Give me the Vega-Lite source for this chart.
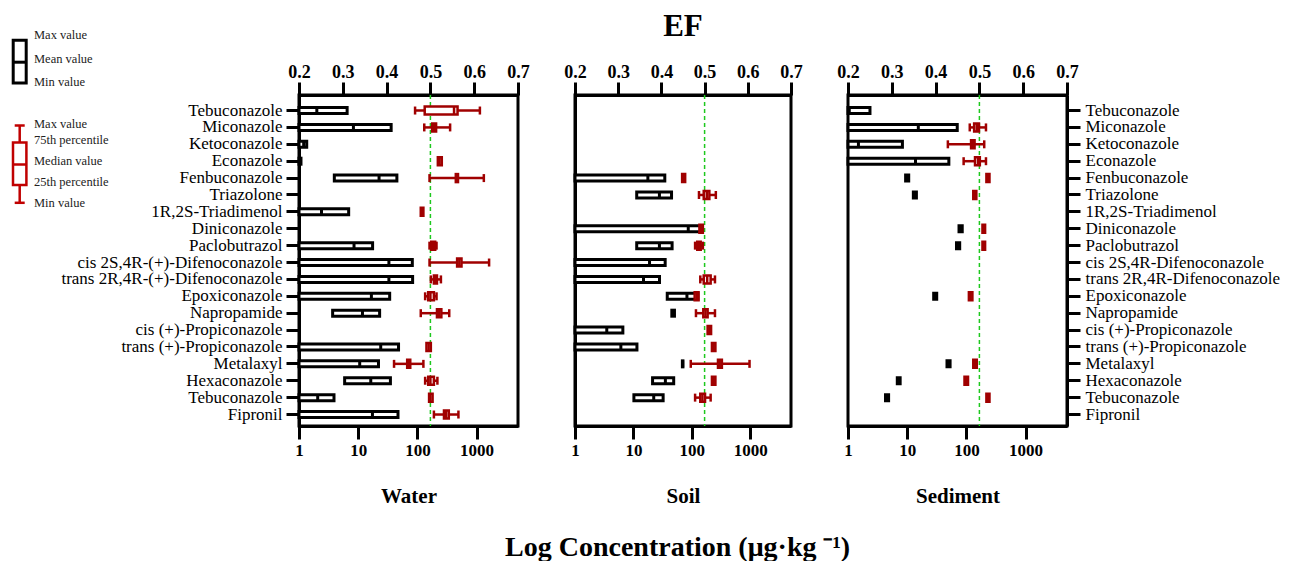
{
  "$schema": "https://vega.github.io/schema/vega-lite/v6.json",
  "padding": {"left": 10, "top": 9, "right": 0, "bottom": 0},
  "config": {
    "font": "Liberation Serif",
    "view": {"stroke": "black", "strokeWidth": 3},
    "tick": {"opacity": 1},
    "bar": {"opacity": 1},
    "axis": {"domainColor": "black", "domainWidth": 3, "tickColor": "black", "tickWidth": 3, "tickSize": 13, "labelColor": "black", "labelFont": "Liberation Serif", "titleFont": "Liberation Serif", "titleColor": "black", "grid": false, "labelFlush": false, "labelOverlap": false, "labelLimit": 0},
    "title": {"font": "Liberation Serif", "color": "black"}
  },
  "title": {"text": "Log Concentration (μg·kg ⁻¹)", "orient": "bottom", "anchor": "middle", "fontSize": 28, "fontWeight": "bold", "offset": 26, "dx": 32},
  "datasets": {
    "conc": [
      {"m":"Water","k":"01|Tebuconazole|Tebuconazole","min":1,"mean":2.0,"max":6.5},
      {"m":"Water","k":"02|Miconazole|Miconazole","min":1,"mean":8.3,"max":36},
      {"m":"Water","k":"03|Ketoconazole|Ketoconazole","min":1,"mean":1.2,"max":1.35},
      {"m":"Water","k":"04|Econazole|Econazole","min":1,"mean":1.04,"max":1.08},
      {"m":"Water","k":"05|Fenbuconazole|Fenbuconazole","min":3.95,"mean":22.5,"max":45},
      {"m":"Water","k":"07|1R,2S-Triadimenol|1R,2S-Triadimenol","min":1,"mean":2.4,"max":6.9},
      {"m":"Water","k":"09|Paclobutrazol|Paclobutrazol","min":1,"mean":8.5,"max":17.5},
      {"m":"Water","k":"10|cis 2S,4R-(+)-Difenoconazole|cis 2S,4R-Difenoconazole","min":1,"mean":33,"max":82},
      {"m":"Water","k":"11|trans 2R,4R-(+)-Difenoconazole|trans 2R,4R-Difenoconazole","min":1,"mean":33,"max":83},
      {"m":"Water","k":"12|Epoxiconazole|Epoxiconazole","min":1,"mean":16.7,"max":34},
      {"m":"Water","k":"13|Napropamide|Napropamide","min":3.7,"mean":11.8,"max":23},
      {"m":"Water","k":"15|trans (+)-Propiconazole|trans (+)-Propiconazole","min":1,"mean":24,"max":48},
      {"m":"Water","k":"16|Metalaxyl|Metalaxyl","min":1,"mean":10.6,"max":22},
      {"m":"Water","k":"17|Hexaconazole|Hexaconazole","min":5.9,"mean":16.3,"max":35},
      {"m":"Water","k":"18|Tebuconazole|Tebuconazole","min":1,"mean":2.07,"max":3.9},
      {"m":"Water","k":"19|Fipronil|Fipronil","min":1,"mean":17.4,"max":47},
      {"m":"Soil","k":"05|Fenbuconazole|Fenbuconazole","min":1,"mean":17.7,"max":34.5},
      {"m":"Soil","k":"06|Triazolone|Triazolone","min":11.4,"mean":27.9,"max":45},
      {"m":"Soil","k":"08|Diniconazole|Diniconazole","min":1,"mean":87,"max":152},
      {"m":"Soil","k":"09|Paclobutrazol|Paclobutrazol","min":11.4,"mean":27.9,"max":46},
      {"m":"Soil","k":"10|cis 2S,4R-(+)-Difenoconazole|cis 2S,4R-Difenoconazole","min":1,"mean":18.9,"max":35},
      {"m":"Soil","k":"11|trans 2R,4R-(+)-Difenoconazole|trans 2R,4R-Difenoconazole","min":1,"mean":14.9,"max":28},
      {"m":"Soil","k":"12|Epoxiconazole|Epoxiconazole","min":38,"mean":82.6,"max":127},
      {"m":"Soil","k":"13|Napropamide|Napropamide","min":45.5,"mean":48,"max":50.5},
      {"m":"Soil","k":"14|cis (+)-Propiconazole|cis (+)-Propiconazole","min":1,"mean":3.5,"max":6.6},
      {"m":"Soil","k":"15|trans (+)-Propiconazole|trans (+)-Propiconazole","min":1,"mean":6.1,"max":11.5},
      {"m":"Soil","k":"16|Metalaxyl|Metalaxyl","min":69,"mean":69.8,"max":70.5},
      {"m":"Soil","k":"17|Hexaconazole|Hexaconazole","min":21.3,"mean":35.3,"max":49},
      {"m":"Soil","k":"18|Tebuconazole|Tebuconazole","min":10.2,"mean":22.3,"max":32.3},
      {"m":"Sediment","k":"01|Tebuconazole|Tebuconazole","min":1,"mean":1.05,"max":2.35},
      {"m":"Sediment","k":"02|Miconazole|Miconazole","min":1,"mean":15.4,"max":70},
      {"m":"Sediment","k":"03|Ketoconazole|Ketoconazole","min":1,"mean":1.5,"max":8.3},
      {"m":"Sediment","k":"04|Econazole|Econazole","min":1,"mean":13.8,"max":50.5},
      {"m":"Sediment","k":"05|Fenbuconazole|Fenbuconazole","min":9.4,"mean":10,"max":10.6},
      {"m":"Sediment","k":"06|Triazolone|Triazolone","min":12.7,"mean":13.5,"max":14.3},
      {"m":"Sediment","k":"08|Diniconazole|Diniconazole","min":75,"mean":80,"max":85},
      {"m":"Sediment","k":"09|Paclobutrazol|Paclobutrazol","min":68,"mean":72.5,"max":77},
      {"m":"Sediment","k":"12|Epoxiconazole|Epoxiconazole","min":28,"mean":29.7,"max":31.5},
      {"m":"Sediment","k":"16|Metalaxyl|Metalaxyl","min":47,"mean":50,"max":53},
      {"m":"Sediment","k":"17|Hexaconazole|Hexaconazole","min":6.8,"mean":7.2,"max":7.6},
      {"m":"Sediment","k":"18|Tebuconazole|Tebuconazole","min":4.3,"mean":4.57,"max":4.85}
    ],
    "ef": [
      {"m":"Water","k":"01|Tebuconazole|Tebuconazole","lo":0.465,"q1":0.487,"med":0.554,"q3":0.562,"hi":0.613},
      {"m":"Water","k":"02|Miconazole|Miconazole","lo":0.486,"q1":0.504,"med":0.508,"q3":0.513,"hi":0.545},
      {"m":"Water","k":"04|Econazole|Econazole","q1":0.517,"med":0.521,"q3":0.526},
      {"m":"Water","k":"05|Fenbuconazole|Fenbuconazole","lo":0.498,"q1":0.558,"med":0.56,"q3":0.563,"hi":0.622},
      {"m":"Water","k":"07|1R,2S-Triadimenol|1R,2S-Triadimenol","q1":0.478,"med":0.481,"q3":0.484},
      {"m":"Water","k":"09|Paclobutrazol|Paclobutrazol","lo":0.498,"q1":0.502,"med":0.506,"q3":0.511,"hi":0.514},
      {"m":"Water","k":"10|cis 2S,4R-(+)-Difenoconazole|cis 2S,4R-Difenoconazole","lo":0.498,"q1":0.561,"med":0.566,"q3":0.571,"hi":0.634},
      {"m":"Water","k":"11|trans 2R,4R-(+)-Difenoconazole|trans 2R,4R-Difenoconazole","lo":0.501,"q1":0.508,"med":0.511,"q3":0.515,"hi":0.524},
      {"m":"Water","k":"12|Epoxiconazole|Epoxiconazole","lo":0.488,"q1":0.495,"med":0.5,"q3":0.508,"hi":0.514},
      {"m":"Water","k":"13|Napropamide|Napropamide","lo":0.478,"q1":0.515,"med":0.52,"q3":0.525,"hi":0.543},
      {"m":"Water","k":"15|trans (+)-Propiconazole|trans (+)-Propiconazole","q1":0.491,"med":0.496,"q3":0.501},
      {"m":"Water","k":"16|Metalaxyl|Metalaxyl","lo":0.417,"q1":0.447,"med":0.45,"q3":0.454,"hi":0.484},
      {"m":"Water","k":"17|Hexaconazole|Hexaconazole","lo":0.488,"q1":0.495,"med":0.5,"q3":0.508,"hi":0.516},
      {"m":"Water","k":"18|Tebuconazole|Tebuconazole","q1":0.497,"med":0.5,"q3":0.505},
      {"m":"Water","k":"19|Fipronil|Fipronil","lo":0.508,"q1":0.531,"med":0.536,"q3":0.542,"hi":0.564},
      {"m":"Soil","k":"05|Fenbuconazole|Fenbuconazole","q1":0.448,"med":0.452,"q3":0.455},
      {"m":"Soil","k":"06|Triazolone|Triazolone","lo":0.487,"q1":0.498,"med":0.505,"q3":0.511,"hi":0.526},
      {"m":"Soil","k":"08|Diniconazole|Diniconazole","q1":0.488,"med":0.492,"q3":0.496},
      {"m":"Soil","k":"09|Paclobutrazol|Paclobutrazol","lo":0.478,"q1":0.483,"med":0.487,"q3":0.491,"hi":0.496},
      {"m":"Soil","k":"11|trans 2R,4R-(+)-Difenoconazole|trans 2R,4R-Difenoconazole","lo":0.49,"q1":0.498,"med":0.506,"q3":0.514,"hi":0.524},
      {"m":"Soil","k":"12|Epoxiconazole|Epoxiconazole","q1":0.477,"med":0.482,"q3":0.486},
      {"m":"Soil","k":"13|Napropamide|Napropamide","lo":0.48,"q1":0.497,"med":0.502,"q3":0.507,"hi":0.524},
      {"m":"Soil","k":"14|cis (+)-Propiconazole|cis (+)-Propiconazole","q1":0.507,"med":0.511,"q3":0.515},
      {"m":"Soil","k":"15|trans (+)-Propiconazole|trans (+)-Propiconazole","q1":0.517,"med":0.521,"q3":0.525},
      {"m":"Soil","k":"16|Metalaxyl|Metalaxyl","lo":0.468,"q1":0.531,"med":0.535,"q3":0.54,"hi":0.604},
      {"m":"Soil","k":"17|Hexaconazole|Hexaconazole","q1":0.517,"med":0.521,"q3":0.525},
      {"m":"Soil","k":"18|Tebuconazole|Tebuconazole","lo":0.478,"q1":0.49,"med":0.495,"q3":0.501,"hi":0.514},
      {"m":"Sediment","k":"02|Miconazole|Miconazole","lo":0.478,"q1":0.488,"med":0.494,"q3":0.499,"hi":0.515},
      {"m":"Sediment","k":"03|Ketoconazole|Ketoconazole","lo":0.428,"q1":0.481,"med":0.485,"q3":0.489,"hi":0.511},
      {"m":"Sediment","k":"04|Econazole|Econazole","lo":0.464,"q1":0.49,"med":0.497,"q3":0.501,"hi":0.515},
      {"m":"Sediment","k":"05|Fenbuconazole|Fenbuconazole","q1":0.516,"med":0.52,"q3":0.523},
      {"m":"Sediment","k":"06|Triazolone|Triazolone","q1":0.486,"med":0.49,"q3":0.493},
      {"m":"Sediment","k":"08|Diniconazole|Diniconazole","q1":0.507,"med":0.51,"q3":0.513},
      {"m":"Sediment","k":"09|Paclobutrazol|Paclobutrazol","q1":0.507,"med":0.51,"q3":0.513},
      {"m":"Sediment","k":"12|Epoxiconazole|Epoxiconazole","q1":0.476,"med":0.48,"q3":0.484},
      {"m":"Sediment","k":"16|Metalaxyl|Metalaxyl","q1":0.486,"med":0.49,"q3":0.494},
      {"m":"Sediment","k":"17|Hexaconazole|Hexaconazole","q1":0.466,"med":0.47,"q3":0.474},
      {"m":"Sediment","k":"18|Tebuconazole|Tebuconazole","q1":0.516,"med":0.52,"q3":0.523}
    ],
    "threshold": [{"ef": 0.5}],
    "blank": [{}]
  },
  "spacing": 31,
  "hconcat": [
    {
      "width": 219, "height": 331,
      "resolve": {"scale": {"x": "independent", "y": "independent"}, "axis": {"x": "independent", "y": "independent"}},
      "layer": [
        {
          "data": {"name": "conc"},
          "transform": [{"filter": "datum.m === 'Water'"}],
          "layer": [
            {"mark": {"type": "bar", "size": 6, "fill": "white", "stroke": "black", "strokeWidth": 3},
             "encoding": {
               "y": {"field": "k", "type": "nominal", "scale": {"domain": ["01|Tebuconazole|Tebuconazole","02|Miconazole|Miconazole","03|Ketoconazole|Ketoconazole","04|Econazole|Econazole","05|Fenbuconazole|Fenbuconazole","06|Triazolone|Triazolone","07|1R,2S-Triadimenol|1R,2S-Triadimenol","08|Diniconazole|Diniconazole","09|Paclobutrazol|Paclobutrazol","10|cis 2S,4R-(+)-Difenoconazole|cis 2S,4R-Difenoconazole","11|trans 2R,4R-(+)-Difenoconazole|trans 2R,4R-Difenoconazole","12|Epoxiconazole|Epoxiconazole","13|Napropamide|Napropamide","14|cis (+)-Propiconazole|cis (+)-Propiconazole","15|trans (+)-Propiconazole|trans (+)-Propiconazole","16|Metalaxyl|Metalaxyl","17|Hexaconazole|Hexaconazole","18|Tebuconazole|Tebuconazole","19|Fipronil|Fipronil"], "paddingInner": 0, "paddingOuter": 0.3, "align": 0.7},
                     "axis": {"orient": "left", "title": null, "labelExpr": "split(datum.label, '|')[1]", "labelFontSize": 17, "labelPadding": 4, "tickSize": 13}},
               "x": {"field": "min", "type": "quantitative", "scale": {"type": "log", "domain": [1, 5000], "nice": false},
                     "axis": {"orient": "bottom", "values": [1, 10, 100, 1000], "format": "d", "labelFontWeight": "bold", "labelFontSize": 17, "labelPadding": 3, "title": "Water", "titleFontSize": 21, "titleFontWeight": "bold", "titlePadding": 27}},
               "x2": {"field": "max"}
             }},
            {"mark": {"type": "tick", "color": "black", "size": 7, "thickness": 3},
             "encoding": {"y": {"field": "k", "type": "nominal"}, "x": {"field": "mean", "type": "quantitative"}}}
          ]
        },
        {
          "data": {"name": "ef"},
          "transform": [{"filter": "datum.m === 'Water'"}],
          "layer": [
            {"data": {"name": "threshold"},
             "mark": {"type": "rule", "color": "#1ec81e", "strokeDash": [4, 3], "strokeWidth": 1.5},
             "encoding": {"x": {"field": "ef", "type": "quantitative", "scale": {"domain": [0.2, 0.7], "nice": false, "zero": false},
               "axis": {"orient": "top", "values": [0.2, 0.3, 0.4, 0.5, 0.6, 0.7], "format": ".1f", "labelFontWeight": "bold", "labelFontSize": 18, "labelPadding": 1, "title": null}}}},
            {"mark": {"type": "rule", "color": "#a00000", "strokeWidth": 2.5},
             "encoding": {"y": {"field": "k", "type": "nominal", "scale": {"domain": ["01|Tebuconazole|Tebuconazole","02|Miconazole|Miconazole","03|Ketoconazole|Ketoconazole","04|Econazole|Econazole","05|Fenbuconazole|Fenbuconazole","06|Triazolone|Triazolone","07|1R,2S-Triadimenol|1R,2S-Triadimenol","08|Diniconazole|Diniconazole","09|Paclobutrazol|Paclobutrazol","10|cis 2S,4R-(+)-Difenoconazole|cis 2S,4R-Difenoconazole","11|trans 2R,4R-(+)-Difenoconazole|trans 2R,4R-Difenoconazole","12|Epoxiconazole|Epoxiconazole","13|Napropamide|Napropamide","14|cis (+)-Propiconazole|cis (+)-Propiconazole","15|trans (+)-Propiconazole|trans (+)-Propiconazole","16|Metalaxyl|Metalaxyl","17|Hexaconazole|Hexaconazole","18|Tebuconazole|Tebuconazole","19|Fipronil|Fipronil"], "paddingInner": 0, "paddingOuter": 0.3, "align": 0.7}, "axis": null},
               "x": {"field": "lo", "type": "quantitative"}, "x2": {"field": "hi"}}},
            {"mark": {"type": "tick", "color": "#a00000", "size": 8, "thickness": 2.5},
             "encoding": {"y": {"field": "k", "type": "nominal"}, "x": {"field": "lo", "type": "quantitative"}}},
            {"mark": {"type": "tick", "color": "#a00000", "size": 8, "thickness": 2.5},
             "encoding": {"y": {"field": "k", "type": "nominal"}, "x": {"field": "hi", "type": "quantitative"}}},
            {"mark": {"type": "bar", "size": 8, "fill": "white", "stroke": "#a00000", "strokeWidth": 2.5},
             "encoding": {"y": {"field": "k", "type": "nominal"}, "x": {"field": "q1", "type": "quantitative"}, "x2": {"field": "q3"}}},
            {"mark": {"type": "tick", "color": "#a00000", "size": 8, "thickness": 2.5},
             "encoding": {"y": {"field": "k", "type": "nominal"}, "x": {"field": "med", "type": "quantitative"}}}
          ]
        },
        {
          "data": {"name": "blank"},
          "layer": [
            {"mark": {"type": "rect", "fill": "white", "stroke": "black", "strokeWidth": 3},
             "encoding": {"x": {"datum": 3.2, "type": "quantitative", "scale": {"domain": [0, 100], "range": [-289, -189]}, "axis": null},
                          "x2": {"datum": 16.2},
                          "y": {"datum": 15.8, "type": "quantitative", "scale": {"domain": [0, 180], "range": [-70.5, 109.5]}, "axis": null},
                          "y2": {"datum": 58.5}}},
            {"mark": {"type": "rule", "color": "black", "strokeWidth": 3},
             "encoding": {"x": {"datum": 3.2, "type": "quantitative"}, "x2": {"datum": 16.2}, "y": {"datum": 37.7, "type": "quantitative"}}},
            {"mark": {"type": "rule", "color": "#c00000", "strokeWidth": 2.5},
             "encoding": {"x": {"datum": 9.7, "type": "quantitative"}, "y": {"datum": 101, "type": "quantitative"}, "y2": {"datum": 178.3}}},
            {"mark": {"type": "rule", "color": "#c00000", "strokeWidth": 2.5},
             "encoding": {"x": {"datum": 4.7, "type": "quantitative"}, "x2": {"datum": 14.7}, "y": {"datum": 101, "type": "quantitative"}}},
            {"mark": {"type": "rule", "color": "#c00000", "strokeWidth": 2.5},
             "encoding": {"x": {"datum": 4.7, "type": "quantitative"}, "x2": {"datum": 14.7}, "y": {"datum": 178.3, "type": "quantitative"}}},
            {"mark": {"type": "rect", "fill": "white", "stroke": "#c00000", "strokeWidth": 2.5},
             "encoding": {"x": {"datum": 3.0, "type": "quantitative"}, "x2": {"datum": 16.4}, "y": {"datum": 117.9, "type": "quantitative"}, "y2": {"datum": 160.5}}},
            {"mark": {"type": "rule", "color": "#c00000", "strokeWidth": 2.5},
             "encoding": {"x": {"datum": 3.0, "type": "quantitative"}, "x2": {"datum": 16.4}, "y": {"datum": 140, "type": "quantitative"}}},
            {"mark": {"type": "text", "text": "Max value", "align": "left", "baseline": "middle", "fontSize": 12.5, "color": "#222"},
             "encoding": {"x": {"datum": 24, "type": "quantitative"}, "y": {"datum": 10, "type": "quantitative"}}},
            {"mark": {"type": "text", "text": "Mean value", "align": "left", "baseline": "middle", "fontSize": 12.5, "color": "#222"},
             "encoding": {"x": {"datum": 24, "type": "quantitative"}, "y": {"datum": 34.3, "type": "quantitative"}}},
            {"mark": {"type": "text", "text": "Min value", "align": "left", "baseline": "middle", "fontSize": 12.5, "color": "#222"},
             "encoding": {"x": {"datum": 24, "type": "quantitative"}, "y": {"datum": 57, "type": "quantitative"}}},
            {"mark": {"type": "text", "text": "Max value", "align": "left", "baseline": "middle", "fontSize": 12.5, "color": "#222"},
             "encoding": {"x": {"datum": 24, "type": "quantitative"}, "y": {"datum": 99.7, "type": "quantitative"}}},
            {"mark": {"type": "text", "text": "75th percentile", "align": "left", "baseline": "middle", "fontSize": 12.5, "color": "#222"},
             "encoding": {"x": {"datum": 24, "type": "quantitative"}, "y": {"datum": 115.7, "type": "quantitative"}}},
            {"mark": {"type": "text", "text": "Median value", "align": "left", "baseline": "middle", "fontSize": 12.5, "color": "#222"},
             "encoding": {"x": {"datum": 24, "type": "quantitative"}, "y": {"datum": 136.7, "type": "quantitative"}}},
            {"mark": {"type": "text", "text": "25th percentile", "align": "left", "baseline": "middle", "fontSize": 12.5, "color": "#222"},
             "encoding": {"x": {"datum": 24, "type": "quantitative"}, "y": {"datum": 157.7, "type": "quantitative"}}},
            {"mark": {"type": "text", "text": "Min value", "align": "left", "baseline": "middle", "fontSize": 12.5, "color": "#222"},
             "encoding": {"x": {"datum": 24, "type": "quantitative"}, "y": {"datum": 178.3, "type": "quantitative"}}}
          ]
        }
      ]
    },
    {
      "width": 216, "height": 331,
      "title": {"text": "EF", "fontSize": 31, "fontWeight": "bold", "anchor": "middle", "offset": 20},
      "resolve": {"scale": {"x": "independent", "y": "independent"}, "axis": {"x": "independent", "y": "independent"}},
      "layer": [
        {
          "data": {"name": "conc"},
          "transform": [{"filter": "datum.m === 'Soil'"}],
          "layer": [
            {"mark": {"type": "bar", "size": 6, "fill": "white", "stroke": "black", "strokeWidth": 3},
             "encoding": {
               "y": {"field": "k", "type": "nominal", "scale": {"domain": ["01|Tebuconazole|Tebuconazole","02|Miconazole|Miconazole","03|Ketoconazole|Ketoconazole","04|Econazole|Econazole","05|Fenbuconazole|Fenbuconazole","06|Triazolone|Triazolone","07|1R,2S-Triadimenol|1R,2S-Triadimenol","08|Diniconazole|Diniconazole","09|Paclobutrazol|Paclobutrazol","10|cis 2S,4R-(+)-Difenoconazole|cis 2S,4R-Difenoconazole","11|trans 2R,4R-(+)-Difenoconazole|trans 2R,4R-Difenoconazole","12|Epoxiconazole|Epoxiconazole","13|Napropamide|Napropamide","14|cis (+)-Propiconazole|cis (+)-Propiconazole","15|trans (+)-Propiconazole|trans (+)-Propiconazole","16|Metalaxyl|Metalaxyl","17|Hexaconazole|Hexaconazole","18|Tebuconazole|Tebuconazole","19|Fipronil|Fipronil"], "paddingInner": 0, "paddingOuter": 0.3, "align": 0.7},
                     "axis": {"orient": "left", "title": null, "labels": false, "ticks": false}},
               "x": {"field": "min", "type": "quantitative", "scale": {"type": "log", "domain": [1, 5000], "nice": false},
                     "axis": {"orient": "bottom", "values": [1, 10, 100, 1000], "format": "d", "labelFontWeight": "bold", "labelFontSize": 17, "labelPadding": 3, "title": "Soil", "titleFontSize": 21, "titleFontWeight": "bold", "titlePadding": 27}},
               "x2": {"field": "max"}
             }},
            {"mark": {"type": "tick", "color": "black", "size": 7, "thickness": 3},
             "encoding": {"y": {"field": "k", "type": "nominal"}, "x": {"field": "mean", "type": "quantitative"}}}
          ]
        },
        {
          "data": {"name": "ef"},
          "transform": [{"filter": "datum.m === 'Soil'"}],
          "layer": [
            {"data": {"name": "threshold"},
             "mark": {"type": "rule", "color": "#1ec81e", "strokeDash": [4, 3], "strokeWidth": 1.5},
             "encoding": {"x": {"field": "ef", "type": "quantitative", "scale": {"domain": [0.2, 0.7], "nice": false, "zero": false},
               "axis": {"orient": "top", "values": [0.2, 0.3, 0.4, 0.5, 0.6, 0.7], "format": ".1f", "labelFontWeight": "bold", "labelFontSize": 18, "labelPadding": 1, "title": null}}}},
            {"mark": {"type": "rule", "color": "#a00000", "strokeWidth": 2.5},
             "encoding": {"y": {"field": "k", "type": "nominal", "scale": {"domain": ["01|Tebuconazole|Tebuconazole","02|Miconazole|Miconazole","03|Ketoconazole|Ketoconazole","04|Econazole|Econazole","05|Fenbuconazole|Fenbuconazole","06|Triazolone|Triazolone","07|1R,2S-Triadimenol|1R,2S-Triadimenol","08|Diniconazole|Diniconazole","09|Paclobutrazol|Paclobutrazol","10|cis 2S,4R-(+)-Difenoconazole|cis 2S,4R-Difenoconazole","11|trans 2R,4R-(+)-Difenoconazole|trans 2R,4R-Difenoconazole","12|Epoxiconazole|Epoxiconazole","13|Napropamide|Napropamide","14|cis (+)-Propiconazole|cis (+)-Propiconazole","15|trans (+)-Propiconazole|trans (+)-Propiconazole","16|Metalaxyl|Metalaxyl","17|Hexaconazole|Hexaconazole","18|Tebuconazole|Tebuconazole","19|Fipronil|Fipronil"], "paddingInner": 0, "paddingOuter": 0.3, "align": 0.7}, "axis": null},
               "x": {"field": "lo", "type": "quantitative"}, "x2": {"field": "hi"}}},
            {"mark": {"type": "tick", "color": "#a00000", "size": 8, "thickness": 2.5},
             "encoding": {"y": {"field": "k", "type": "nominal"}, "x": {"field": "lo", "type": "quantitative"}}},
            {"mark": {"type": "tick", "color": "#a00000", "size": 8, "thickness": 2.5},
             "encoding": {"y": {"field": "k", "type": "nominal"}, "x": {"field": "hi", "type": "quantitative"}}},
            {"mark": {"type": "bar", "size": 8, "fill": "white", "stroke": "#a00000", "strokeWidth": 2.5},
             "encoding": {"y": {"field": "k", "type": "nominal"}, "x": {"field": "q1", "type": "quantitative"}, "x2": {"field": "q3"}}},
            {"mark": {"type": "tick", "color": "#a00000", "size": 8, "thickness": 2.5},
             "encoding": {"y": {"field": "k", "type": "nominal"}, "x": {"field": "med", "type": "quantitative"}}}
          ]
        }
      ]
    },
    {
      "width": 219, "height": 331,
      "resolve": {"scale": {"x": "independent", "y": "independent"}, "axis": {"x": "independent", "y": "independent"}},
      "layer": [
        {
          "data": {"name": "conc"},
          "transform": [{"filter": "datum.m === 'Sediment'"}],
          "layer": [
            {"mark": {"type": "bar", "size": 6, "fill": "white", "stroke": "black", "strokeWidth": 3},
             "encoding": {
               "y": {"field": "k", "type": "nominal", "scale": {"domain": ["01|Tebuconazole|Tebuconazole","02|Miconazole|Miconazole","03|Ketoconazole|Ketoconazole","04|Econazole|Econazole","05|Fenbuconazole|Fenbuconazole","06|Triazolone|Triazolone","07|1R,2S-Triadimenol|1R,2S-Triadimenol","08|Diniconazole|Diniconazole","09|Paclobutrazol|Paclobutrazol","10|cis 2S,4R-(+)-Difenoconazole|cis 2S,4R-Difenoconazole","11|trans 2R,4R-(+)-Difenoconazole|trans 2R,4R-Difenoconazole","12|Epoxiconazole|Epoxiconazole","13|Napropamide|Napropamide","14|cis (+)-Propiconazole|cis (+)-Propiconazole","15|trans (+)-Propiconazole|trans (+)-Propiconazole","16|Metalaxyl|Metalaxyl","17|Hexaconazole|Hexaconazole","18|Tebuconazole|Tebuconazole","19|Fipronil|Fipronil"], "paddingInner": 0, "paddingOuter": 0.3, "align": 0.7},
                     "axis": {"orient": "right", "title": null, "labelExpr": "split(datum.label, '|')[2]", "labelFontSize": 17, "labelPadding": 5, "tickSize": 13}},
               "x": {"field": "min", "type": "quantitative", "scale": {"type": "log", "domain": [1, 5000], "nice": false},
                     "axis": {"orient": "bottom", "values": [1, 10, 100, 1000], "format": "d", "labelFontWeight": "bold", "labelFontSize": 17, "labelPadding": 3, "title": "Sediment", "titleFontSize": 21, "titleFontWeight": "bold", "titlePadding": 27}},
               "x2": {"field": "max"}
             }},
            {"mark": {"type": "tick", "color": "black", "size": 7, "thickness": 3},
             "encoding": {"y": {"field": "k", "type": "nominal"}, "x": {"field": "mean", "type": "quantitative"}}}
          ]
        },
        {
          "data": {"name": "ef"},
          "transform": [{"filter": "datum.m === 'Sediment'"}],
          "layer": [
            {"data": {"name": "threshold"},
             "mark": {"type": "rule", "color": "#1ec81e", "strokeDash": [4, 3], "strokeWidth": 1.5},
             "encoding": {"x": {"field": "ef", "type": "quantitative", "scale": {"domain": [0.2, 0.7], "nice": false, "zero": false},
               "axis": {"orient": "top", "values": [0.2, 0.3, 0.4, 0.5, 0.6, 0.7], "format": ".1f", "labelFontWeight": "bold", "labelFontSize": 18, "labelPadding": 1, "title": null}}}},
            {"mark": {"type": "rule", "color": "#a00000", "strokeWidth": 2.5},
             "encoding": {"y": {"field": "k", "type": "nominal", "scale": {"domain": ["01|Tebuconazole|Tebuconazole","02|Miconazole|Miconazole","03|Ketoconazole|Ketoconazole","04|Econazole|Econazole","05|Fenbuconazole|Fenbuconazole","06|Triazolone|Triazolone","07|1R,2S-Triadimenol|1R,2S-Triadimenol","08|Diniconazole|Diniconazole","09|Paclobutrazol|Paclobutrazol","10|cis 2S,4R-(+)-Difenoconazole|cis 2S,4R-Difenoconazole","11|trans 2R,4R-(+)-Difenoconazole|trans 2R,4R-Difenoconazole","12|Epoxiconazole|Epoxiconazole","13|Napropamide|Napropamide","14|cis (+)-Propiconazole|cis (+)-Propiconazole","15|trans (+)-Propiconazole|trans (+)-Propiconazole","16|Metalaxyl|Metalaxyl","17|Hexaconazole|Hexaconazole","18|Tebuconazole|Tebuconazole","19|Fipronil|Fipronil"], "paddingInner": 0, "paddingOuter": 0.3, "align": 0.7}, "axis": null},
               "x": {"field": "lo", "type": "quantitative"}, "x2": {"field": "hi"}}},
            {"mark": {"type": "tick", "color": "#a00000", "size": 8, "thickness": 2.5},
             "encoding": {"y": {"field": "k", "type": "nominal"}, "x": {"field": "lo", "type": "quantitative"}}},
            {"mark": {"type": "tick", "color": "#a00000", "size": 8, "thickness": 2.5},
             "encoding": {"y": {"field": "k", "type": "nominal"}, "x": {"field": "hi", "type": "quantitative"}}},
            {"mark": {"type": "bar", "size": 8, "fill": "white", "stroke": "#a00000", "strokeWidth": 2.5},
             "encoding": {"y": {"field": "k", "type": "nominal"}, "x": {"field": "q1", "type": "quantitative"}, "x2": {"field": "q3"}}},
            {"mark": {"type": "tick", "color": "#a00000", "size": 8, "thickness": 2.5},
             "encoding": {"y": {"field": "k", "type": "nominal"}, "x": {"field": "med", "type": "quantitative"}}}
          ]
        }
      ]
    }
  ]
}
